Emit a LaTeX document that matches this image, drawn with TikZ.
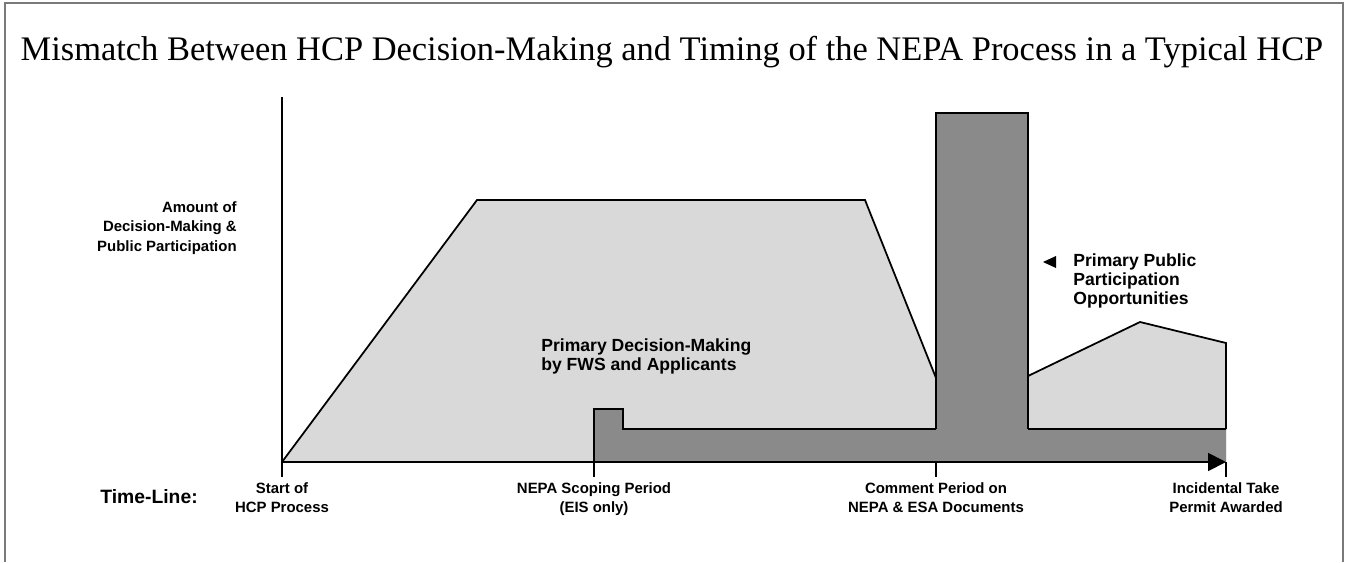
\documentclass[tikz,border=0pt]{standalone}
\usepackage{fontspec}
\setmainfont{Liberation Serif}
\setsansfont{Liberation Sans}
\usetikzlibrary{arrows.meta}
\definecolor{lightfill}{HTML}{D9D9D9}
\definecolor{darkfill}{HTML}{8A8A8A}
\definecolor{framegray}{HTML}{7A7A7A}
\tikzset{
  lbl/.style={font=\sffamily\bfseries\fontsize{8.5}{11}\selectfont, inner sep=0pt},
  biglbl/.style={font=\sffamily\bfseries\fontsize{10}{10.8}\selectfont, inner sep=0pt, align=left, anchor=west},
  ticklbl/.style={lbl, anchor=north, align=center, yshift=-3pt},
  edge/.style={line width=1pt},
}
% tick on the time-line with its caption below
\newcommand{\timemark}[3]{ \coordinate (#1) at ( #2 , 462 ); \draw[edge] (#1) -- ++(0,15) coordinate (#1end); \node[ticklbl] (#1lbl) at (#1end) {#3};}

\begin{document}
\begin{tikzpicture}[x=0.02cm,y=-0.02cm]
\useasboundingbox (0,0) rectangle (1345,562);
% frame
\draw[framegray, line width=1.2pt] (5,562) -- (5,3) -- (1343,3) -- (1343,562);
% title
\node[anchor=base, font=\fontsize{19.6}{24}\selectfont, inner sep=0pt] (title) at (672,60)
  {Mismatch Between HCP Decision-Making and Timing of the NEPA Process in a Typical HCP};
% decision-making area
\fill[lightfill] (282,462) -- (477,200) -- (865,200) -- (936,378) -- (1028,376) -- (1140,322) -- (1226,343) -- (1226,462) -- cycle;
\draw[edge] (282,462) -- (477,200) -- (865,200) -- (936,378);
\draw[edge] (1028,376) -- (1140,322) -- (1226,343) -- (1226,429);
% public participation band
\fill[darkfill] (594,462) -- (594,409) -- (623,409) -- (623,429) -- (1226,429) -- (1226,462) -- cycle;
\draw[edge] (594,462) -- (594,409) -- (623,409) -- (623,429) -- (936,429);
\draw[edge, dashed] (936,429) -- (1028,429);
\draw[edge] (1028,429) -- (1226,429);
% comment period bar
\fill[darkfill] (936,113) rectangle (1028,462);
\draw[edge] (936,429) -- (936,113) -- (1028,113) -- (1028,429);
% axes
\coordinate (ytop) at (282,97);
\coordinate (origin) at (282,462);
\coordinate (tend) at (1226,462);
\draw[edge] (ytop) -- (origin);
\draw[edge, -{Triangle[length=0.36cm, width=0.36cm]}] (origin) -- (tend);
% ticks
\timemark{start}{282}{Start of\\HCP Process}
\timemark{scoping}{594}{NEPA Scoping Period\\(EIS only)}
\timemark{comment}{936}{Comment Period on\\NEPA \& ESA Documents}
\timemark{permit}{1226}{Incidental Take\\Permit Awarded}
% labels
\node[font=\sffamily\bfseries\fontsize{11}{13}\selectfont, inner sep=0pt, anchor=west] (timeline) at (100,497) {Time-Line:};
\node[lbl, align=right, anchor=east] (amount) at (237,228) {Amount of\\Decision-Making \&\\Public Participation};
\node[biglbl] (decision) at (541,356) {Primary Decision-Making\\by FWS and Applicants};
\node[biglbl] (public) at (1073,281) {Primary Public\\Participation\\Opportunities};
\fill (1043,262) -- (1056,256) -- (1056,268) -- cycle;
\end{tikzpicture}
\end{document}
